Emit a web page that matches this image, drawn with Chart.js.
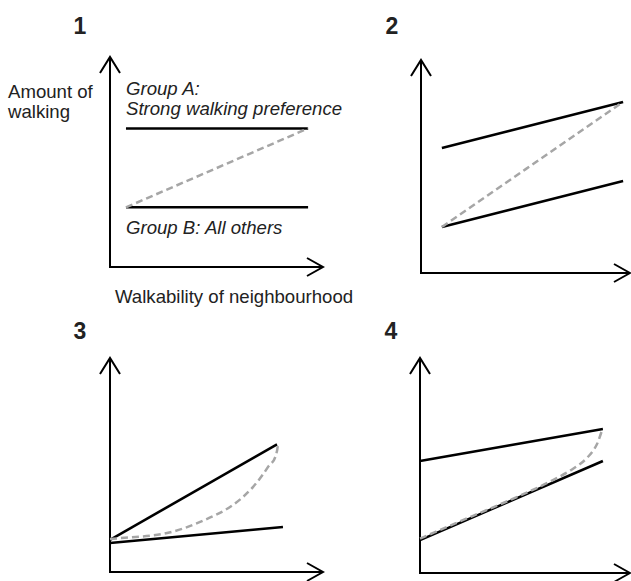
<!DOCTYPE html>
<html>
<head>
<meta charset="utf-8">
<script src="https://cdn.jsdelivr.net/npm/chart.js@4"></script>
<style>
  body { margin: 0; background: #fff; }
  #wrap {
    position: relative;
    width: 631px;
    height: 581px;
    overflow: hidden;
    font-family: "Liberation Sans", Arial, sans-serif;
    color: #222;
  }
  #wrap canvas { position: absolute; }
  .t { position: absolute; font-size: 18.6px; line-height: 20px; white-space: nowrap; }
  .i { font-style: italic; }
  .n {
    position: absolute;
    width: 40px;
    text-align: center;
    font-weight: bold;
    font-size: 23px;
    line-height: 26px;
  }
</style>
</head>
<body>
<div id="wrap">
  <div class="n" style="left:60px;top:13px">1</div>
  <div class="n" style="left:372px;top:13px">2</div>
  <div class="n" style="left:60px;top:318px">3</div>
  <div class="n" style="left:371px;top:318px">4</div>
  <div class="t" style="left:8px;top:82px">Amount of<br>walking</div>
  <div class="t i" style="left:126px;top:79px">Group A:<br>Strong walking preference</div>
  <div class="t i" style="left:126px;top:218px">Group B: All others</div>
  <div class="t" style="left:115px;top:287px">Walkability of neighbourhood</div>
</div>
<script>
// values in axis units: origin = 0, arrow tip = 100
// panel 1: flat lines for both groups
const p1GroupA = [{x: 7.5, y: 66}, {x: 93, y: 66}];
const p1GroupB = [{x: 7.5, y: 28.4}, {x: 93, y: 28.4}];
const p1All = [{x: 7.5, y: 28.4}, {x: 93, y: 66}];

// panel 2: both groups rise a little
const p2GroupA = [{x: 10, y: 58.7}, {x: 96.7, y: 80.3}];
const p2GroupB = [{x: 10, y: 21.6}, {x: 96.7, y: 43.2}];
const p2All = [{x: 10, y: 21.6}, {x: 96.7, y: 80.3}];

// panel 3: group A rises steeply
const p3GroupA = [{x: 0, y: 15}, {x: 78.4, y: 59.6}];
const p3GroupB = [{x: 0, y: 13.6}, {x: 81.2, y: 21}];
const p3All = [
  {x: 0, y: 15.4}, {x: 26.8, y: 18.2}, {x: 42.3, y: 23.4}, {x: 57.7, y: 31.3},
  {x: 67.1, y: 39.7}, {x: 74.2, y: 49.1}, {x: 78.4, y: 56.5}, {x: 78.9, y: 60}
];

// panel 4: group B rises more
const p4GroupA = [{x: 0, y: 52.1}, {x: 87.1, y: 67}];
const p4GroupB = [{x: 0, y: 15.3}, {x: 87.1, y: 52.1}];
const p4All = [
  {x: 0, y: 16}, {x: 25, y: 26.5}, {x: 50, y: 37}, {x: 63.3, y: 43.2},
  {x: 72.9, y: 48.5}, {x: 79.5, y: 53.5}, {x: 84.3, y: 60}, {x: 86.9, y: 67}
];

// where each small plot sits on the page (origin and arrow tips, px)
const boxes = [
  {ox: 110, oy: 267, tx: 323, ty: 57},
  {ox: 421, oy: 273, tx: 630, ty: 60},
  {ox: 110, oy: 572, tx: 323, ty: 358},
  {ox: 420, oy: 573, tx: 630, ty: 358}
];

const panels = [
  {box: boxes[0], solid: [p1GroupA, p1GroupB], dashed: p1All},
  {box: boxes[1], solid: [p2GroupA, p2GroupB], dashed: p2All},
  {box: boxes[2], solid: [p3GroupA, p3GroupB], dashed: p3All},
  {box: boxes[3], solid: [p4GroupA, p4GroupB], dashed: p4All}
];

const axisArrows = {
  id: 'axisArrows',
  beforeDatasetsDraw(chart) {
    const {ctx, scales: {x, y}} = chart;
    const x0 = x.getPixelForValue(0), y0 = y.getPixelForValue(0);
    const x1 = x.getPixelForValue(100), y1 = y.getPixelForValue(100);
    ctx.save();
    ctx.strokeStyle = '#000';
    ctx.lineWidth = 2;
    ctx.beginPath();
    ctx.moveTo(x0, y1);
    ctx.lineTo(x0, y0);
    ctx.lineTo(x1, y0);
    ctx.moveTo(x0 - 10, y1 + 16);
    ctx.lineTo(x0, y1);
    ctx.lineTo(x0 + 10, y1 + 16);
    ctx.moveTo(x1 - 16, y0 - 9);
    ctx.lineTo(x1, y0);
    ctx.lineTo(x1 - 16, y0 + 9);
    ctx.stroke();
    ctx.restore();
  }
};

const wrap = document.getElementById('wrap');

panels.forEach(p => {
  const b = p.box;
  const left = b.ox - 22, top = b.ty - 4;
  const right = Math.min(b.tx + 2, 631), bottom = b.oy + 14;
  const canvas = document.createElement('canvas');
  canvas.width = right - left;
  canvas.height = bottom - top;
  canvas.style.left = left + 'px';
  canvas.style.top = top + 'px';
  wrap.appendChild(canvas);

  const kx = 100 / (b.tx - b.ox), ky = 100 / (b.oy - b.ty);
  const datasets = [{
    data: p.dashed,
    borderColor: '#a6a6a6',
    borderWidth: 2.5,
    borderDash: [7, 4],
    cubicInterpolationMode: 'monotone',
    pointRadius: 0,
    fill: false
  }].concat(p.solid.map(d => ({
    data: d,
    borderColor: '#000',
    borderWidth: 2.5,
    pointRadius: 0,
    fill: false
  })));

  new Chart(canvas, {
    type: 'line',
    data: {datasets},
    options: {
      responsive: false,
      animation: false,
      devicePixelRatio: 1,
      layout: {padding: 0},
      plugins: {legend: {display: false}, tooltip: {enabled: false}},
      scales: {
        x: {type: 'linear', display: false, min: (left - b.ox) * kx, max: (right - b.ox) * kx},
        y: {type: 'linear', display: false, min: (b.oy - bottom) * ky, max: (b.oy - top) * ky}
      }
    },
    plugins: [axisArrows]
  });
});
</script>
</body>
</html>
